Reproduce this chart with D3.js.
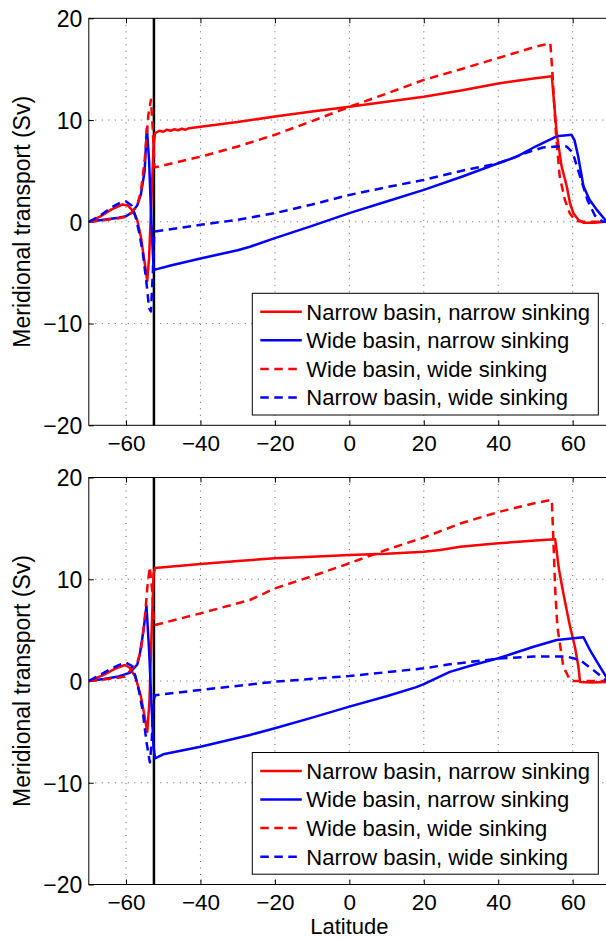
<!DOCTYPE html>
<html><head><meta charset="utf-8">
<script src="https://cdn.jsdelivr.net/npm/d3@7"></script>
<style>
body{margin:0;background:#fff;}
svg{display:block;font-family:"Liberation Sans",Arial,Helvetica,sans-serif;}
</style></head>
<body><div id="chart"></div>
<script>
// ---------------- data ----------------
const xTicks = [-60, -40, -20, 0, 20, 40, 60];
const yTicks = [-20, -10, 0, 10, 20];
const seriesNames = ["Narrow basin, narrow sinking", "Wide basin, narrow sinking", "Wide basin, wide sinking", "Narrow basin, wide sinking"];
const seriesColors = ["#ff0000", "#0000ff", "#ff0000", "#0000ff"];
const seriesDashed = [false, false, true, true];
const frontLatitude = -52.5;

// top panel
const topNN_lat = [-70,-67,-64,-61,-59.5,-58,-57,-56,-55,-54.3,-53.8,-53.2,-52.6,-52.2,-51,-50,-49,-48,-47,-46,-45,-44,-43,-40,-30,-20,-10,0,10,20,30,40,50,54.4,55.7,57,58.4,59.3,60.2,61.5,63,66,68.7,70];
const topNN_val = [0,0.5,1.2,1.7,1.6,1.0,0.2,-1.5,-4.0,-5.8,-3.5,2,7.5,8.7,8.95,8.85,9.05,8.95,9.1,9.0,9.15,9.05,9.2,9.35,9.8,10.35,10.85,11.3,11.8,12.3,12.9,13.6,14.1,14.3,8.7,5.5,3.5,1.8,0.85,0.2,-0.1,-0.1,0,0];
const topWN_lat = [-70,-66,-62,-60,-58.5,-57,-56,-55,-54.4,-53.8,-53.2,-52.6,-52.2,-48,-40,-30,-26.7,-20,-10,0,10,20,30,40,45,50,55.7,59.7,60.5,61.5,62.9,64.5,66.5,68.7,70];
const topWN_val = [0,0.2,0.4,0.55,0.9,1.6,2.7,5.0,9.2,6,0,-4.5,-4.7,-4.3,-3.6,-2.8,-2.45,-1.6,-0.4,0.85,2.0,3.14,4.4,5.75,6.4,7.4,8.4,8.55,8.0,6.4,3.5,2.2,1.17,0.2,0];
const topWW_lat = [-70,-66,-62,-60,-58.5,-57,-56,-55,-54,-53.3,-52.8,-52.4,-52.2,-40,-30,-20,-10,0,10,20,30,40,50,54,54.5,55.5,56.5,57.9,59.2,60.8,63,70];
const topWW_val = [0,0.15,0.35,0.5,0.9,1.6,3,6,10.5,12.0,9,5.4,5.35,6.4,7.4,8.55,9.9,11.3,12.6,13.95,15.0,16.1,17.2,17.55,15,8.7,4.5,2.15,0.85,0.1,0,0];
const topNW_lat = [-70,-67,-64,-61.5,-60,-58.5,-57.5,-56.5,-55.5,-54.5,-53.8,-53.3,-52.8,-52.4,-52.2,-40,-30,-20,-10,0,10,20,30,40,48.5,52,55.7,58.4,60,62,64,66,68,70];
const topNW_val = [0,0.6,1.4,1.9,2.0,1.6,0.6,-1,-3,-6,-8.5,-8.8,-5,-1.0,-0.95,-0.3,0.2,0.85,1.7,2.64,3.4,4.12,5.0,5.75,6.9,7.3,7.4,7.4,6.8,4.45,2.1,0.6,0,0];

// bottom panel
const botNN_lat = [-70,-66,-63,-60.3,-59,-57.5,-57,-56,-55,-54.3,-53.7,-53.2,-52.6,-52.2,-40,-30,-20,-10,0,10,20,24.4,29.8,40,50,55.3,56.3,57.5,59.3,60.6,61.5,62,65,70];
const botNN_val = [0,0.6,1.2,1.57,1.3,0.4,-0.2,-1.5,-3.5,-5.0,-2,4,10.5,11.1,11.5,11.8,12.06,12.2,12.39,12.5,12.7,12.88,13.2,13.54,13.8,13.93,11,8.6,5.34,3.37,1.5,-0.1,-0.15,-0.1];
const botWN_lat = [-70,-66,-62,-59,-58.3,-57,-56.3,-55.3,-54.5,-53.8,-53.2,-52.6,-52.2,-50,-40,-26.7,-20,-10,0,10,18,20,27,33,40,49.5,55.7,62.9,64.7,66.5,69,70];
const botWN_val = [0,0.2,0.45,0.8,1.1,1.6,2.6,5.0,7.4,3,-2,-6.5,-7.6,-7.2,-6.46,-5.3,-4.65,-3.6,-2.52,-1.5,-0.6,-0.3,0.9,1.55,2.23,3.37,4.03,4.3,3.0,1.9,0.4,0.2];
const botWW_lat = [-70,-66,-62.5,-60.3,-58.3,-57,-56,-55,-54.2,-53.6,-53,-52.5,-52.2,-40,-26.7,-20,-10,0,10,20,30,40,50,54.4,54.8,55.3,55.9,57.5,59.3,60,70];
const botWW_val = [0,0.15,0.3,0.43,1.25,1.8,3,6,9.5,11.2,9,5.6,5.5,6.65,7.96,9.1,10.3,11.57,12.9,14.1,15.5,16.6,17.5,17.8,14,9,5.3,1.4,0.1,0,0];
const botNW_lat = [-70,-67,-64,-61,-60,-58.5,-57.5,-56.5,-55.5,-54.5,-53.6,-53.1,-52.6,-52.2,-40,-20,0,13.6,20,27,40,49.5,58.4,62,65.6,69,70];
const botNW_val = [0,0.6,1.2,1.7,1.8,1.5,0.5,-1,-3,-6,-8.0,-6,-2,-1.4,-0.88,-0.07,0.49,1.0,1.25,1.64,2.2,2.4,2.4,2.06,1.05,0.07,0];

const panels = [
  {series:[[topNN_lat,topNN_val],[topWN_lat,topWN_val],[topWW_lat,topWW_val],[topNW_lat,topNW_val]]},
  {series:[[botNN_lat,botNN_val],[botWN_lat,botWN_val],[botWW_lat,botWW_val],[botNW_lat,botNW_val]]}
];

// ---------------- drawing ----------------
const W = 606, H = 939;
const svg = d3.select("#chart").append("svg").attr("width", W).attr("height", H);
const left = 88.8, right = 609.9;
const panelTops = [18.3, 477.5];
const panelH = 407;
const FS = 23;   // y axis text
const XFS = 22.5; // x tick text
const LFS = 22;  // legend text

const x = d3.scaleLinear().domain([-70, 70]).range([left, right]);

panels.forEach((p, pi) => {
  const top = panelTops[pi], bottom = top + panelH;
  const y = d3.scaleLinear().domain([-20, 20]).range([bottom, top]);
  const g = svg.append("g");
  const clipId = "clip" + pi;
  svg.append("clipPath").attr("id", clipId).append("rect")
    .attr("x", left).attr("y", top).attr("width", right - left).attr("height", panelH);

  // grid
  const grid = g.append("g").attr("stroke", "#333").attr("stroke-width", 0.8).attr("stroke-dasharray", "1,5.5");
  xTicks.forEach(t => grid.append("line").attr("x1", x(t)).attr("x2", x(t)).attr("y1", top).attr("y2", bottom));
  yTicks.filter(t => t > -20 && t < 20).forEach(t => grid.append("line").attr("x1", left).attr("x2", right).attr("y1", y(t)).attr("y2", y(t)));

  // ticks (inside) bottom & top
  const axB = g.append("g").attr("transform", `translate(0,${bottom})`)
    .call(d3.axisBottom(x).tickValues(xTicks).tickSizeInner(-5).tickSizeOuter(0).tickFormat(d3.format("d")));
  axB.select(".domain").remove();
  axB.selectAll("text").attr("y", 9.5).attr("dy", "0.71em").style("font-size", XFS + "px").attr("fill", "#000");
  const axT = g.append("g").attr("transform", `translate(0,${top})`)
    .call(d3.axisTop(x).tickValues(xTicks).tickSizeInner(-5).tickSizeOuter(0).tickFormat(""));
  axT.select(".domain").remove();
  const axL = g.append("g").attr("transform", `translate(${left},0)`)
    .call(d3.axisLeft(y).tickValues(yTicks).tickSizeInner(-5).tickSizeOuter(0).tickFormat(d3.format("d")));
  axL.select(".domain").remove();
  axL.selectAll("text").attr("x", -6.5).attr("dy", "0.36em").style("font-size", FS + "px").attr("fill", "#000");

  // front line
  g.append("line").attr("x1", x(frontLatitude)).attr("x2", x(frontLatitude)).attr("y1", top).attr("y2", bottom)
    .attr("stroke", "#000").attr("stroke-width", 2.5);

  // curves
  const line = d3.line().x(d => x(d[0])).y(d => y(d[1])).curve(d3.curveLinear);
  const cg = g.append("g").attr("clip-path", `url(#${clipId})`);
  p.series.forEach((s, si) => {
    const pts = s[0].map((v, i) => [v, s[1][i]]);
    cg.append("path").attr("d", line(pts)).attr("fill", "none")
      .attr("stroke", seriesColors[si]).attr("stroke-width", 2.5)
      .attr("stroke-linejoin", "round")
      .attr("stroke-dasharray", seriesDashed[si] ? "8.5,5.5" : null);
  });

  // box
  g.append("rect").attr("x", left).attr("y", top).attr("width", right - left).attr("height", panelH)
    .attr("fill", "none").attr("stroke", "#000").attr("stroke-width", 1);

  // y label
  svg.append("text").attr("transform", `translate(30,${(top + bottom) / 2}) rotate(-90)`)
    .attr("text-anchor", "middle").style("font-size", FS + "px").text("Meridional transport (Sv)");

  // legend
  const lx = 252.3, ly = top + 275, lw = 346, lh = 121.7;
  const lg = svg.append("g");
  lg.append("rect").attr("x", lx).attr("y", ly).attr("width", lw).attr("height", lh)
    .attr("fill", "#fff").attr("stroke", "#000").attr("stroke-width", 1);
  seriesNames.forEach((n, i) => {
    const cy = ly + 18.4 + i * 28.6;
    lg.append("line").attr("x1", lx + 8).attr("x2", lx + 49.5).attr("y1", cy).attr("y2", cy)
      .attr("stroke", seriesColors[i]).attr("stroke-width", 2.5)
      .attr("stroke-dasharray", seriesDashed[i] ? "8.5,5.5" : null);
    lg.append("text").attr("x", lx + 54).attr("y", cy).attr("dy", "0.36em")
      .style("font-size", LFS + "px").text(n);
  });
});

svg.append("text").attr("x", x(0)).attr("y", 934).attr("text-anchor", "middle")
  .style("font-size", "22px").text("Latitude");
</script>
</body></html>
